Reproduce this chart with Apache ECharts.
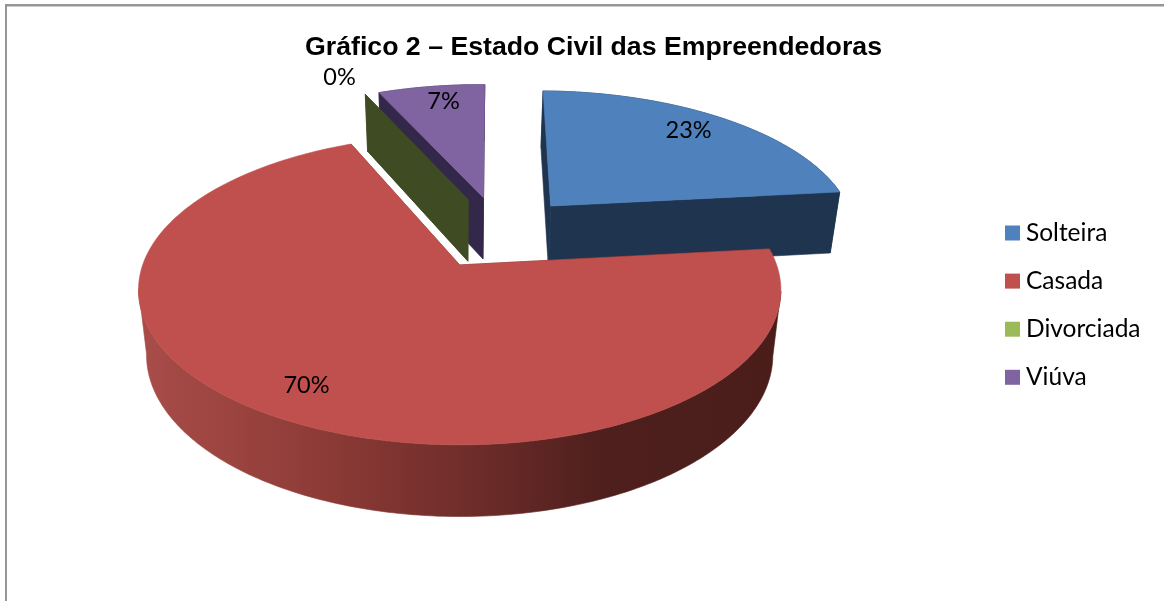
<!DOCTYPE html>
<html>
<head>
<meta charset="utf-8">
<style>html,body{margin:0;padding:0;background:#fff}#c{width:1164px;height:601px}</style>
<script src="https://cdn.jsdelivr.net/npm/echarts@6/dist/echarts.min.js"></script>
</head>
<body>
<div id="c"></div>
<script>
const categories = ['Solteira', 'Casada', 'Divorciada', 'Viúva'];
const shares = [23, 70.3, 0, 6.7];
const titleText = 'Gráfico 2 – Estado Civil das Empreendedoras';

const topColors = ['#4F81BD', '#C0504D', '#9BBB59', '#8064A2'];
const wallColors = ['#1F344F', null, '#3F4B22', '#33274A'];
const paintOrder = [4, 5, 3, 2];
const labelNudge = [[-8, 0], [-1, -3], [-8, 1], [5, -1]];

const chart = echarts.init(document.getElementById('c'), null, {renderer: 'canvas'});
const total = shares.reduce((a, b) => a + b, 0);
const startDeg = 89, explode = 0.26, hub = [0.135, 0.225];
const persp = 0.1613, dU = 317, cx = 458.5, y0 = 265, aV = -108.2;

function project(u, v) {
  const w = 1 + persp * v;
  return [cx + dU * u / w, (y0 + aV * v) / w];
}
function sink(p) {
  return [cx + (p[0] - cx) * 0.975, p[1] + 53 + 0.042 * p[1]];
}
const rad = d => d * Math.PI / 180;

function sliceAngles(i) {
  let a = startDeg;
  for (let k = 0; k < i; k++) a -= shares[k] / total * 360;
  return [a, a - shares[i] / total * 360];
}

const casadaWall = new echarts.graphic.LinearGradient(137, 0, 780, 0, [
  {offset: 0, color: '#A94D49'},
  {offset: 0.3, color: '#8C3A36'},
  {offset: 0.55, color: '#6A2B28'},
  {offset: 0.72, color: '#4E1F1D'},
  {offset: 1, color: '#4A1D1B'}
], true);

function renderSlice(i) {
  return function () {
    const [a0, a1] = sliceAngles(i);
    const mid = (a0 + a1) / 2;
    const ax = hub[0] + explode * Math.cos(rad(mid));
    const ay = hub[1] + explode * Math.sin(rad(mid));
    const arc = [];
    const n = Math.max(1, Math.ceil(Math.abs(a0 - a1)));
    for (let k = 0; k <= n; k++) {
      const t = rad(a0 + (a1 - a0) * k / n);
      arc.push(project(ax + Math.cos(t), ay + Math.sin(t)));
    }
    const apex = project(ax, ay);
    const wall = wallColors[i] || casadaWall;
    const children = [];
    const poly = (pts, fill) => children.push({type: 'polygon', shape: {points: pts}, style: {fill: fill, stroke: fill, lineWidth: 0.6}});
    poly([apex, arc[0], sink(arc[0]), sink(apex)], wall);
    poly([apex, arc[n], sink(arc[n]), sink(apex)], wall);
    if (n > 1) {
      // Rim: only the stretch between the arc's x extremes, so its ends form the silhouette.
      let iR = 0, iL = 0;
      arc.forEach((p, k) => {
        if (p[0] > arc[iR][0]) iR = k;
        if (p[0] < arc[iL][0]) iL = k;
      });
      const front = arc.slice(Math.min(iR, iL), Math.max(iR, iL) + 1);
      poly(front.concat(front.map(sink).reverse()), wall);
    }
    if (shares[i] > 0) poly([apex].concat(arc), topColors[i]);
    const lr = shares[i] > 1 ? 0.84 : 1.2;
    const lp = project(ax + lr * Math.cos(rad(mid)), ay + lr * Math.sin(rad(mid)));
    children.push({
      type: 'text', z2: 50,
      style: {
        x: lp[0] + labelNudge[i][0], y: lp[1] + labelNudge[i][1],
        text: Math.round(shares[i] / total * 100) + '%',
        fill: '#000', fontFamily: 'Lato, Carlito, sans-serif', fontSize: 23.5,
        align: 'center', verticalAlign: 'middle'
      }
    });
    return {type: 'group', children: children};
  };
}

chart.setOption({
  animation: false,
  backgroundColor: '#fff',
  title: {
    text: titleText,
    left: 588.5, top: 29, textAlign: 'center',
    textStyle: {fontFamily: '"Liberation Sans", Arial, sans-serif', fontWeight: 'bold', fontSize: 26.7, color: '#000'}
  },
  legend: {
    orient: 'vertical',
    left: 1005, top: 220.5,
    padding: 0,
    itemWidth: 15, itemHeight: 15, itemGap: 23.1,
    icon: 'rect',
    selectedMode: false,
    data: categories,
    textStyle: {fontFamily: 'Lato, Carlito, sans-serif', fontSize: 24.5, color: '#000', padding: [0, 0, 0, 1], lineHeight: 15}
  },
  graphic: [
    {type: 'rect', shape: {x: 5, y: 4, width: 1159, height: 2.5}, style: {fill: '#969696'}, silent: true},
    {type: 'rect', shape: {x: 5, y: 4, width: 2, height: 597}, style: {fill: '#969696'}, silent: true}
  ],
  series: categories.map((name, i) => ({
    type: 'custom',
    name: name,
    coordinateSystem: 'none',
    silent: true,
    z: paintOrder[i],
    itemStyle: {color: topColors[i]},
    data: [[shares[i]]],
    renderItem: renderSlice(i)
  }))
});
</script>
</body>
</html>
